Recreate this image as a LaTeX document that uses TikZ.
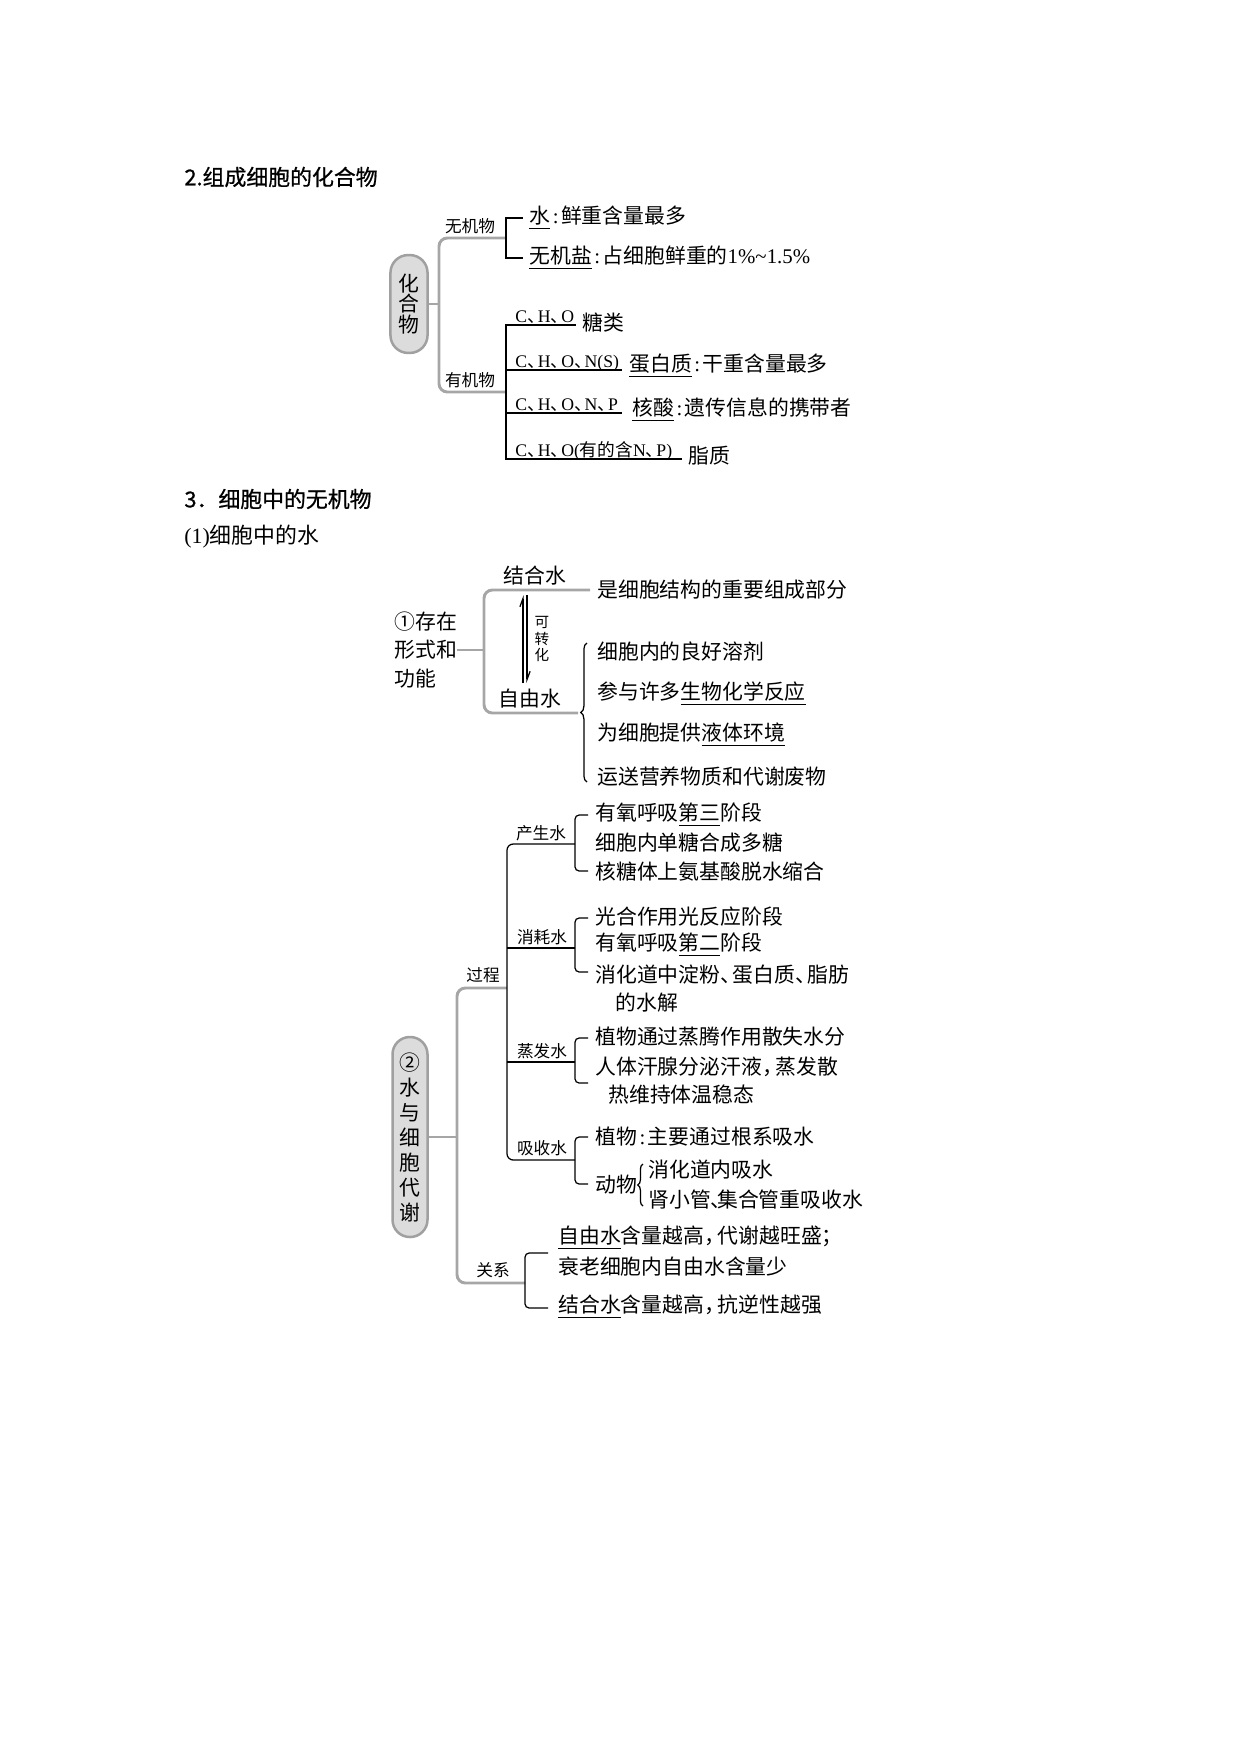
\documentclass[tikz,border=0pt]{standalone}
\usepackage{fontspec}
\setmainfont{Noto Sans CJK SC}
\newfontfamily\latfont{Liberation Serif}
\newfontfamily\headfont{Noto Sans CJK SC}[FakeBold=0.8]
\usetikzlibrary{arrows.meta,decorations.pathreplacing}
\definecolor{lgray}{HTML}{A6A6A6}
\definecolor{pfill}{HTML}{DCDCDC}
\definecolor{pborder}{HTML}{A0A0A0}
\newcommand\lat[1]{{\latfont #1}}
\newcommand\dun{{\rmfamily 、}\kern-0.4em}
\newcommand\dunn{{\rmfamily 、}\kern-0.7em}
\newcommand\udl[1]{\underline{#1}}
\newcommand\col{{\latfont\hspace{1.2pt}:\hspace{1.2pt}}}
\newcommand\zdou{，\kern-0.35em}
\begin{document}
\begin{tikzpicture}[x=0.48pt,y=-0.48pt,
  head/.style={anchor=west,inner sep=0pt,font=\fontsize{10.5}{12}\selectfont\headfont},
  txt/.style={anchor=west,inner sep=0pt,font=\fontsize{10}{12}\selectfont},
  lbl/.style={inner sep=0pt,font=\fontsize{8}{9.6}\selectfont},
  frm/.style={anchor=base west,inner sep=0pt,font=\fontsize{8.5}{10}\selectfont\latfont},
  gline/.style={line width=1.4pt,draw=lgray,rounded corners=4pt},
  bline/.style={line width=0.6pt},
  rbr/.style={line width=0.6pt,rounded corners=2pt},
  cbrace/.style={line width=0.6pt,decorate,decoration={brace,amplitude=3pt}},
  pill/.style={draw=pborder,fill=pfill,line width=1.2pt,inner sep=0pt,align=center},
  harp/.style={line width=0.6pt,-{Straight Barb[left,length=4pt,width=3pt]}}]
\useasboundingbox (0,0) rectangle (1240,1754);

% ---------- Section 2 ----------
\node[head] (h2) at (184,177) {2.组成细胞的化合物};
\node[pill,rounded corners=8.5pt,minimum width=17.8pt,minimum height=47pt,
      font=\fontsize{10}{10}\selectfont] (p1) at (409,304) {化\\合\\物};
\coordinate (g1j) at (439,304);
\coordinate (g1t) at (506,238);
\coordinate (g1b) at (506,392);
\draw[gline] (p1.east) -- (g1j);
\draw[gline] (g1t) -- (439,238) -- (439,392) -- (g1b);
\node[lbl] (wjw) at (470,226) {无机物};
\node[lbl] (yjw) at (470,380) {有机物};

\node[txt] (t1) at (529,218) {\udl{水}\col 鲜重含量最多};
\node[txt] (t2) at (529,258) {\udl{无机盐}\col 占细胞鲜重的\lat{1\%\textasciitilde 1.5\%}};
\draw[bline] ([xshift=-3pt]t1.west) -- (506,218) -- (506,258) -- ([xshift=-3pt]t2.west);

\coordinate (o1) at (576,325);
\coordinate (o2) at (622,370);
\coordinate (o3) at (622,413);
\coordinate (o4) at (682,459);
\draw[bline] (o1) -- (506,325) -- (506,459) -- (o4);
\draw[bline] (506,370) -- (o2);
\draw[bline] (506,413) -- (o3);
\node[frm] (f1) at (515,322) {C\dun H\dun O};
\node[frm] (f2) at (515,367) {C\dun H\dun O\dun N(S)};
\node[frm] (f3) at (515,410) {C\dun H\dun O\dun N\dun P};
\node[frm] (f4) at (515,456) {C\dun H\dun O({\rmfamily 有的含}N\dun P)};
\node[txt] (r1) at (582,323) {糖类};
\node[txt] (r2) at (629,366) {\udl{蛋白质}\col 干重含量最多};
\node[txt] (r3) at (632,410) {\udl{核酸}\col 遗传信息的携带者};
\node[txt] (r4) at (688,456) {脂质};

% ---------- Section 3 ----------
\node[head] (h3) at (184,499) {3．细胞中的无机物};
\node[anchor=west,inner sep=0pt,font=\fontsize{10.5}{12}\selectfont] (h31) at (184,537) {\lat{(1)}细胞中的水};

\node[anchor=west,inner sep=0pt,align=left,font=\fontsize{10}{13.7}\selectfont] (cz) at (394,650) {①存在\\形式和\\功能};
\coordinate (c1j) at (484,650);
\coordinate (c1t) at (590,590);
\coordinate (c1b) at (578,713);
\draw[gline] (cz.east) -- (c1j);
\draw[gline] (c1t) -- (484,590) -- (484,713) -- (c1b);
\node[txt,anchor=center] (jhs) at (535,576) {结合水};
\node[txt,anchor=center] (zys) at (530,699) {自由水};
\coordinate (a1s) at (523,683); \coordinate (a1e) at (523,595);
\coordinate (a2s) at (527,595); \coordinate (a2e) at (527,683);
\draw[harp] (a1s) -- (a1e);
\draw[harp] (a2s) -- (a2e);
\node[inner sep=0pt,align=center,font=\fontsize{7}{8}\selectfont] (kzh) at (542,639) {可\\转\\化};
\node[txt] (s1) at (597,590) {是细胞结构的重要组成部分};
\coordinate (b1s) at (587,782); \coordinate (b1n) at (587,643);
\draw[cbrace] (b1s) -- (b1n);
\node[txt] (s2) at (597,652) {细胞内的良好溶剂};
\node[txt] (s3) at (597,694) {参与许多\udl{生物化学反应}};
\node[txt] (s4) at (597,735) {为细胞提供\udl{液体环境}};
\node[txt] (s5) at (597,777) {运送营养物质和代谢废物};

% ---------- water & metabolism ----------
\node[pill,rounded corners=8.3pt,minimum width=16.8pt,minimum height=96pt,
      font=\fontsize{10}{12}\selectfont] (p2) at (410,1137) {②\\水\\与\\细\\胞\\代\\谢};
\coordinate (g2j) at (457,1137);
\coordinate (g2t) at (507,988);
\coordinate (g2b) at (525,1283);
\draw[gline] (p2.east) -- (g2j);
\draw[gline] (g2t) -- (457,988) -- (457,1283) -- (g2b);
\node[lbl] (gc) at (483,975) {过程};
\node[lbl] (gx) at (493,1270) {关系};

\coordinate (k1) at (575,844);
\coordinate (k2) at (575,948);
\coordinate (k3) at (575,1062);
\coordinate (k4) at (575,1160);
\draw[bline,rounded corners=3pt] (k1) -- (507,844) -- (507,1160) -- (k4);
\draw[bline] (507,948) -- (k2);
\draw[bline] (507,1062) -- (k3);
\node[lbl] (l1) at (541,833) {产生水};
\node[lbl] (l2) at (542,937) {消耗水};
\node[lbl] (l3) at (542,1051) {蒸发水};
\node[lbl] (l4) at (542,1148) {吸收水};

% brackets
\draw[rbr] (588,815) -- (575,815) -- (575,871) -- (588,871);
\draw[rbr] (588,918) -- (575,918) -- (575,972) -- (588,972);
\draw[rbr] (588,1038) -- (575,1038) -- (575,1083) -- (588,1083);
\draw[rbr] (588,1137) -- (575,1137) -- (575,1184) -- (588,1184);

\node[txt] (e1) at (595,815) {有氧呼吸\udl{第三}阶段};
\node[txt] (e2) at (595,843) {细胞内单糖合成多糖};
\node[txt] (e3) at (595,872) {核糖体上氨基酸脱水缩合};
\node[txt] (e4) at (595,917) {光合作用光反应阶段};
\node[txt] (e5) at (595,945) {有氧呼吸\udl{第二}阶段};
\node[txt] (e6) at (595,975) {消化道中淀粉\dun 蛋白质\dun 脂肪};
\node[txt] (e7) at (615,1003) {的水解};
\node[txt] (e8) at (595,1037) {植物通过蒸腾作用散失水分};
\node[txt] (e9) at (595,1067) {人体汗腺分泌汗液\zdou 蒸发散};
\node[txt] (e10) at (608,1095) {热维持体温稳态};
\node[txt] (e11) at (595,1137) {植物\col 主要通过根系吸水};
\node[txt] (e12) at (595,1185) {动物};
\coordinate (d1s) at (643,1206); \coordinate (d1n) at (643,1164);
\draw[cbrace,decoration={brace,amplitude=2.5pt}] (d1s) -- (d1n);
\node[txt] (e13) at (648,1170) {消化道内吸水};
\node[txt] (e14) at (648,1200) {肾小管\dunn 集合管重吸收水};

% relation
\draw[rbr] (548,1253) -- (525,1253) -- (525,1308) -- (548,1308);
\node[txt] (q1) at (558,1238) {\udl{自由水}含量越高\zdou 代谢越旺盛；};
\node[txt] (q2) at (558,1267) {衰老细胞内自由水含量少};
\node[txt] (q3) at (558,1307) {\udl{结合水}含量越高\zdou 抗逆性越强};
\end{tikzpicture}
\end{document}
